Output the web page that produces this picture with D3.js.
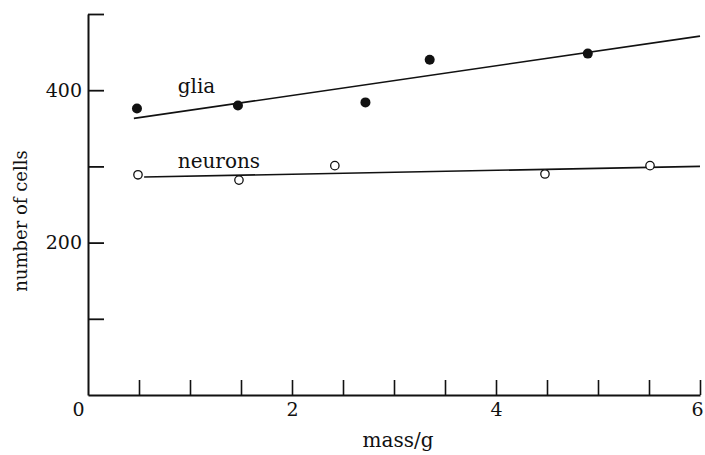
<!DOCTYPE html>
<html>
<head>
<meta charset="utf-8">
<script src="https://cdn.jsdelivr.net/npm/d3@7"></script>
<style>
  body { margin: 0; background: #fff; }
  text { font-family: "DejaVu Serif", "Liberation Serif", serif; fill: #111; }
</style>
</head>
<body>
<svg id="chart" width="705" height="455"></svg>
<script>
// data
const gliaMass = [0.48, 1.47, 2.72, 3.35, 4.9];
const gliaCells = [376, 380, 384, 440, 448];
const neuronMass = [0.49, 1.48, 2.42, 4.48, 5.51];
const neuronCells = [289, 282, 301, 290, 301];

// fitted lines (end points)
const gliaFitMass = [0.45, 6];
const gliaFitCells = [363, 471];
const neuronFitMass = [0.55, 6];
const neuronFitCells = [286, 300];

// series labels
const seriesNames = ["glia", "neurons"];
const labelMass = [0.88, 0.88];
const labelCells = [396, 298];

const xTicks = d3.range(0, 6.01, 0.5);
const yTicks = [100, 200, 300, 400, 500];
const xLabelled = [0, 2, 4, 6];
const yLabelled = [200, 400];

const svg = d3.select("#chart");

const x = d3.scaleLinear().domain([0, 6]).range([88, 700]);
const y = d3.scaleLinear().domain([0, 500]).range([395, 14]);

// x axis
const xAxis = svg.append("g")
    .attr("transform", `translate(0,${y(0)})`)
    .call(d3.axisBottom(x)
        .tickValues(xTicks)
        .tickSize(-15)
        .tickSizeOuter(0)
        .tickPadding(8)
        .tickFormat(d => xLabelled.includes(d) ? d3.format("d")(d) : ""));
xAxis.select(".domain").attr("stroke", "#111").attr("stroke-width", 2);
xAxis.selectAll(".tick line").attr("stroke", "#111").attr("stroke-width", 1.6);
xAxis.selectAll(".tick line").filter(d => d === 0).remove();
xAxis.selectAll(".tick text")
    .style("font-size", "19px")
    .attr("fill", "#111")
    .attr("dx", d => d === 0 ? -10 : (d === 6 ? -3 : 0));

// y axis
const yAxis = svg.append("g")
    .attr("transform", `translate(${x(0)},0)`)
    .call(d3.axisLeft(y)
        .tickValues(yTicks)
        .tickSize(-16)
        .tickSizeOuter(0)
        .tickPadding(6)
        .tickFormat(d => yLabelled.includes(d) ? d : ""));
yAxis.select(".domain").attr("stroke", "#111").attr("stroke-width", 2);
yAxis.selectAll(".tick line").attr("stroke", "#111").attr("stroke-width", 1.8);
yAxis.selectAll(".tick text").style("font-size", "19px").attr("fill", "#111");

// fit lines
const line = d3.line().x(d => x(d[0])).y(d => y(d[1]));
svg.append("path")
    .datum(d3.zip(gliaFitMass, gliaFitCells))
    .attr("d", line)
    .attr("fill", "none").attr("stroke", "#111").attr("stroke-width", 1.6);
svg.append("path")
    .datum(d3.zip(neuronFitMass, neuronFitCells))
    .attr("d", line)
    .attr("fill", "none").attr("stroke", "#111").attr("stroke-width", 1.6);

// glia points (filled)
svg.selectAll(".glia")
    .data(d3.zip(gliaMass, gliaCells))
    .enter().append("circle")
    .attr("class", "glia")
    .attr("cx", d => x(d[0]))
    .attr("cy", d => y(d[1]))
    .attr("r", 5)
    .attr("fill", "#111");

// neuron points (open)
svg.selectAll(".neuron")
    .data(d3.zip(neuronMass, neuronCells))
    .enter().append("circle")
    .attr("class", "neuron")
    .attr("cx", d => x(d[0]))
    .attr("cy", d => y(d[1]))
    .attr("r", 4.2)
    .attr("fill", "#fff")
    .attr("stroke", "#111")
    .attr("stroke-width", 1.3);

// series labels
svg.selectAll(".series-label")
    .data(seriesNames)
    .enter().append("text")
    .attr("class", "series-label")
    .attr("x", (d, i) => x(labelMass[i]))
    .attr("y", (d, i) => y(labelCells[i]))
    .style("font-size", "20px")
    .text(d => d);

// axis titles
svg.append("text")
    .attr("x", 398)
    .attr("y", 447)
    .attr("text-anchor", "middle")
    .style("font-size", "20px")
    .text("mass/g");

svg.append("text")
    .attr("transform", "translate(27,221) rotate(-90)")
    .attr("text-anchor", "middle")
    .style("font-size", "18px")
    .text("number of cells");
</script>
</body>
</html>
